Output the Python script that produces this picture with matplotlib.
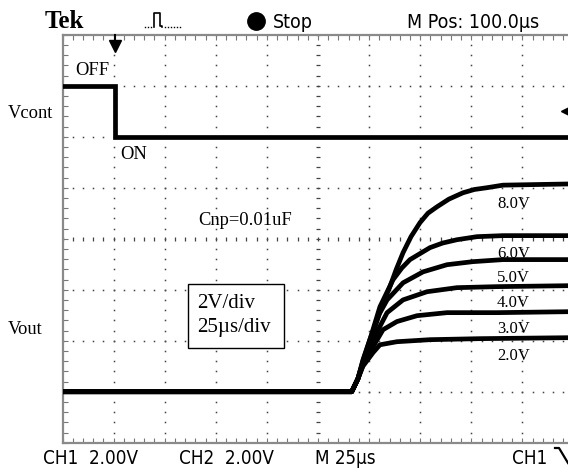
import numpy as np
import matplotlib
matplotlib.use("Agg")
import matplotlib.pyplot as plt
from matplotlib.patches import Rectangle
from matplotlib.lines import Line2D
from matplotlib import font_manager as fm

# ---------------- data (time in us, volts) ----------------
vcont_t = [0.0, 25.5, 25.5, 250.0]
vcont_v = [2.0, 2.0, 0.0, 0.0]
trigger_level = 1.0

labels_v = ["8.0V", "6.0V", "5.0V", "4.0V", "3.0V", "2.0V"]

t_8v = [0, 141.5, 144.5, 147.0, 150.4, 153.9, 157.0, 160.2, 163.3, 166.6, 170.5, 174.9, 178.8, 183.2, 189.0, 195.9, 201.5, 207.7, 215.5, 250]
v_8v = [0, 0.0, 0.5, 1.25, 2.05, 2.82, 3.50, 4.12, 4.80, 5.45, 6.08, 6.63, 7.00, 7.25, 7.55, 7.80, 7.93, 8.00, 8.10, 8.15]

t_6v = [0, 141.5, 144.5, 147.0, 150.4, 155.3, 161.7, 166.0, 170.0, 179.8, 186.0, 193.0, 202.8, 215.5, 250]
v_6v = [0, 0.0, 0.5, 1.2, 2.04, 3.33, 4.39, 4.85, 5.18, 5.65, 5.83, 5.96, 6.08, 6.12, 6.12]

t_5v = [0, 141.5, 144.5, 147.0, 151.9, 155.0, 158.8, 166.6, 176.4, 188.1, 200.8, 215.5, 250]
v_5v = [0, 0.0, 0.5, 1.15, 2.31, 3.05, 3.60, 4.27, 4.70, 4.98, 5.10, 5.18, 5.18]

t_4v = [0, 141.5, 144.5, 147.0, 151.9, 158.8, 166.6, 178.3, 193.0, 212.6, 250]
v_4v = [0, 0.0, 0.5, 1.1, 2.04, 3.10, 3.60, 3.92, 4.08, 4.12, 4.16]

t_3v = [0, 141.5, 144.5, 147.0, 151.9, 156.8, 163.6, 173.4, 188.1, 212.6, 250]
v_3v = [0, 0.0, 0.5, 1.05, 1.76, 2.43, 2.75, 2.98, 3.10, 3.10, 3.14]

t_2v = [0, 141.5, 144.5, 147.0, 151.9, 155.3, 163.6, 179.8, 204.2, 250]
v_2v = [0, 0.0, 0.5, 1.0, 1.53, 1.84, 1.96, 2.04, 2.08, 2.12]

vout_t = [t_8v, t_6v, t_5v, t_4v, t_3v, t_2v]
vout_v = [v_8v, v_6v, v_5v, v_4v, v_3v, v_2v]

# ---------------- fonts ----------------
narrow_path = None
for f in fm.fontManager.ttflist:
    p = f.fname
    base = p.split("/")[-1]
    if ("Narrow" in base or "Condensed" in base) and "Bold" not in base and "Italic" not in base \
            and "Oblique" not in base and f.name in ("Liberation Sans Narrow", "DejaVu Sans", "Noto Sans", "Open Sans", "Roboto"):
        narrow_path = p
        break

def scope_text(x, y, s, size=14):
    if narrow_path is not None:
        fp = fm.FontProperties(fname=narrow_path, size=size)
        fig.text(x, y, s, fontproperties=fp, va="baseline", ha="left")
    else:
        fig.text(x, y, s, fontsize=size * 0.9, family=["Liberation Sans", "DejaVu Sans"],
                 va="baseline", ha="left")

# ---------------- figure ----------------
W, H = 568, 468
fig = plt.figure(figsize=(W / 100, H / 100), dpi=100)
fig.patch.set_facecolor("white")

def fx(x):
    return x / W

def fy(y):
    return 1 - y / H

L, R, T, B = 62.5, 573.5, 34.7, 442.7
ax = fig.add_axes([fx(L), fy(B), (R - L) / W, (B - T) / H])
ax.set_xlim(0, 250)
ax.set_ylim(-2, 14)
ax2 = ax.twinx()
ax2.set_ylim(-12, 4)
ax2.set_axis_off()

# graticule
gcol = "#444444"
minor_y = np.arange(-2, 14.001, 0.4)
minor_x = np.arange(0, 250.001, 5)
for xv in np.arange(25, 250, 25):
    if xv == 125:
        ax.plot(np.full_like(minor_y, xv), minor_y, ls="none", marker="_", ms=3.2, mew=0.9, color=gcol, zorder=1)
    else:
        ax.plot(np.full_like(minor_y, xv), minor_y, ls="none", marker="s", ms=1.1, mew=0, color=gcol, zorder=1)
for yv in np.arange(0, 14, 2):
    if yv == 6:
        ax.plot(minor_x, np.full_like(minor_x, yv), ls="none", marker="|", ms=3.5, mew=0.9, color=gcol, zorder=1)
    else:
        ax.plot(minor_x, np.full_like(minor_x, yv), ls="none", marker="s", ms=1.1, mew=0, color=gcol, zorder=1)

ax.set_xticks(np.arange(0, 251, 25))
ax.set_xticks(minor_x, minor=True)
ax.set_yticks(np.arange(-2, 15, 2))
ax.set_yticks(minor_y, minor=True)
ax.tick_params(which="both", direction="in", length=3.5, width=0.8, color="#777777",
               top=True, right=True, labelbottom=False, labelleft=False)
for s in ax.spines.values():
    s.set_color("#8a8a8a")
    s.set_linewidth(1.6)

# traces
lw = 3.4
ax2.plot(vcont_t, vcont_v, color="black", lw=lw, solid_joinstyle="miter", zorder=3)
for tt, vv in zip(vout_t, vout_v):
    ax.plot(tt, vv, color="black", lw=lw, solid_joinstyle="round", zorder=3)

# trigger markers
ax.plot([vcont_t[1], vcont_t[1]], [1.0, 0.975], transform=ax.get_xaxis_transform(),
        color="black", lw=1.5, clip_on=False, zorder=4)
ax.plot([vcont_t[1]], [0.972], transform=ax.get_xaxis_transform(), marker="v",
        ms=8, color="black", ls="none", clip_on=False, zorder=4)
ax2.plot([246.8], [trigger_level], marker="<", ms=9, color="black", ls="none", clip_on=False, zorder=4)

# ---------------- texts ----------------
serif = ["Liberation Serif", "DejaVu Serif"]

fig.text(fx(45), fy(28), "Tek", fontsize=18, fontweight="bold", family=serif, va="baseline", ha="left")
scope_text(fx(273), fy(27.5), "Stop", 14)
scope_text(fx(407), fy(27.5), "M Pos: 100.0\u00b5s", 14)
fig.add_artist(Line2D([fx(256)], [fy(21)], marker="o", ms=12.5, color="black", ls="none"))

# pulse icon
fig.add_artist(Line2D([fx(153.5), fx(153.5), fx(160), fx(160), fx(162), fx(162)],
                      [fy(27), fy(12.5), fy(12.5), fy(26), fy(26), fy(27)], color="black", lw=1.2))
for xd in [145, 148, 151, 165, 168, 171, 174, 177, 180]:
    fig.add_artist(Line2D([fx(xd)], [fy(27)], marker="s", ms=1.0, mew=0, color="black", ls="none"))

scope_text(fx(43), fy(463.5), "CH1  2.00V", 13.5)
scope_text(fx(179), fy(463.5), "CH2  2.00V", 13.5)
scope_text(fx(315), fy(463.5), "M 25\u00b5s", 13.5)
scope_text(fx(512), fy(463.5), "CH1", 13.5)
fig.add_artist(Line2D([fx(555), fx(559), fx(568)], [fy(448), fy(448), fy(463)], color="black", lw=1.6))

ann = dict(fontsize=13.3, family=serif, va="baseline", ha="left")
fig.text(fx(8), fy(118), "Vcont", **ann)
fig.text(fx(8), fy(333.5), "Vout", **ann)
fig.text(fx(75), fy(75), "OFF", **ann)
fig.text(fx(120), fy(159), "ON", **ann)
fig.text(fx(198), fy(225), "Cnp=0.01uF", **ann)

fig.add_artist(Rectangle((fx(188), fy(348)), (284 - 188) / W, (348 - 284) / H,
                         transform=fig.transFigure, fill=True, facecolor="white",
                         edgecolor="black", lw=1.0, zorder=5))
fig.text(fx(197), fy(308), "2V/div", fontsize=15, family=serif, va="baseline", ha="left", zorder=6)
fig.text(fx(197), fy(332), "25\u00b5s/div", fontsize=15, family=serif, va="baseline", ha="left", zorder=6)

label_base = [208, 258, 282, 307, 333, 360]
for lab, yb in zip(labels_v, label_base):
    fig.text(fx(497), fy(yb), lab, fontsize=12, family=serif, va="baseline", ha="left", zorder=6)

fig.savefig("out.png", dpi=100)
